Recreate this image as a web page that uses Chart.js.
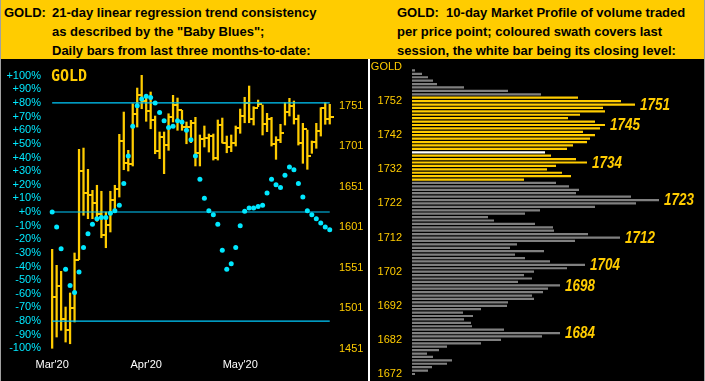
<!DOCTYPE html>
<html><head><meta charset="utf-8">
<script src="https://cdn.jsdelivr.net/npm/chart.js@4.4.1/dist/chart.umd.min.js"></script>
<style>
html,body{margin:0;padding:0;background:#000;}
#wrap{position:relative;width:705px;height:381px;overflow:hidden;background:#000;}
#hdr{position:absolute;left:0;top:0;width:705px;height:59px;background:#ffcc00;}
.ht{position:absolute;top:3px;font:bold 13px "Liberation Sans",Arial,sans-serif;color:#000;line-height:19px;white-space:nowrap;}
#lc{position:absolute;left:0;top:59px;}
#rc{position:absolute;left:371px;top:59px;}
#rline{position:absolute;left:368px;top:59px;width:2px;height:322px;background:#fff;}
#goldL{position:absolute;left:51px;top:69px;font:bold 15px "DejaVu Sans Mono",monospace;line-height:15px;color:#ffcc00;}
#bl{position:absolute;left:0;top:0;width:1px;height:381px;background:#a0a0a0;}
#br{position:absolute;right:0;top:0;width:1px;height:381px;background:#a0a0a0;}
</style></head>
<body>
<div id="wrap">
  <div id="hdr">
    <div class="ht" style="left:4px">GOLD:</div>
    <div class="ht" style="left:52px">21-day linear regression trend consistency<br>as described by the "Baby Blues";<br>Daily bars from last three months-to-date:</div>
    <div class="ht" style="left:397px">GOLD:&nbsp; 10-day Market Profile of volume traded<br>per price point; coloured swath covers last<br>session, the white bar being its closing level:</div>
  </div>
  <canvas id="lc" width="366" height="322"></canvas>
  <div id="goldL">GOLD</div>
  <div id="rline"></div>
  <canvas id="rc" width="333" height="322"></canvas>
  <div id="bl"></div><div id="br"></div>
</div>
<script>
// ---------- Left panel data (daily bars, index = trading day) ----------
const highs  = [1573.9,1554.2,1546.8,1502.8,1520.1,1569.4,1697.2,1698.8,1672.6,1646.7,1652.9,1645.5,1619.9,1645.5,1652.9,1715.7,1743.2,1696.0,1753.5,1772.8,1788.5,1760.9,1767.9,1738.3,1718.6,1718.6,1741.1,1763.8,1760.5,1745.3,1730.9,1733.0,
                1736.7,1714.9,1726.0,1716.1,1716.1,1733.4,1735.8,1713.6,1714.9,1726.0,1746.9,1761.4,1775.3,1749.8,1758.0,1751.9,1741.6,1736.7,1712.8,1728.1,1754.7,1760.1,1756.8,1739.5,1729.3,1721.0,1707.5,1729.3,1748.5,1754.7,1752.7];
const lows   = [1451.9,1465.8,1474.1,1459.6,1457.5,1484.3,1561.1,1615.9,1611.7,1611.7,1608.5,1588.2,1575.9,1595.3,1624.0,1638.4,1672.1,1670.5,1676.7,1724.7,1747.3,1731.8,1722.6,1691.8,1685.7,1667.2,1696.0,1730.9,1720.7,1720.7,1704.1,1705.4,
                1676.7,1676.7,1700.1,1693.9,1684.0,1684.0,1705.0,1693.0,1694.3,1701.3,1717.0,1730.0,1730.0,1727.2,1749.8,1714.9,1719.0,1701.3,1684.9,1705.4,1727.2,1738.3,1728.4,1702.5,1680.0,1672.6,1692.3,1698.5,1713.6,1728.1,1728.4];
const closes = [1515.1,1528.7,1488.4,1474.1,1501.6,1561.1,1670.1,1643.7,1640.5,1631.4,1617.8,1591.9,1604.3,1635.1,1648.7,1707.5,1680.7,1679.5,1741.1,1763.8,1756.4,1744.1,1733.7,1695.1,1712.4,1702.9,1737.1,1752.2,1746.1,1724.7,1724.7,1730.0,
                1692.7,1709.9,1711.2,1713.6,1686.5,1727.2,1705.4,1700.4,1705.4,1723.9,1738.7,1754.7,1735.0,1748.5,1752.7,1728.1,1735.0,1703.8,1708.7,1717.7,1743.6,1751.0,1735.0,1704.6,1721.9,1689.3,1705.9,1720.2,1748.5,1734.2,1737.4];
// "Baby Blues": 21-day linear regression trend consistency, in %
const babyBlues = [0,-11,-27,-42,-54,-59,-44,-26,-16,-9,-5,-4,-4,-1,1,5,21,41,63,78,83,85,84,80,73,67,62,63,67,66,60,53,
                   41,24,10,1,-2,-9,-28,-42,-38,-26,-10,0.5,3,3,4,5,14,24,20,18,27,33,31,21,11,1,-2,-5,-8,-11,-13];
const bandLevels = [80, 0, -80];
const monthLabels = ["Mar'20", "Apr'20", "May'20"];
const monthFirstBar = [0, 21, 42];
const pctTicks = [-100,-90,-80,-70,-60,-50,-40,-30,-20,-10,0,10,20,30,40,50,60,70,80,90,100];
const priceTicks = [1451,1501,1551,1601,1651,1701,1751];

// ---------- Right panel data (10-day market profile) ----------
const profileLevels = [1762,1761,1760,1759,1758,1757,1756,1755,1754,1753,1752,1751,1750,1749,1748,1747,1746,1745,1744,1743,1742,1741,1740,1739,1738,1737,1736,1735,1734,1733,1732,1731,1730,1729,1728,1727,1726,1725,1724,1723,1722,1721,1720,1719,1718,1717,1716,1715,1714,1713,1712,1711,1710,1709,1708,1707,1706,1705,1704,1703,1702,1701,1700,1699,1698,1697,1696,1695,1694,1693,1692,1691,1690,1689,1688,1687,1686,1685,1684,1683,1682,1681,1680,1679,1678,1677,1676,1675,1674,1673,1672];
const profileVolume = [null,3,10,16,21,25,52,96,129,166,209,223,191,193,168,156,183,193,188,171,183,178,175,161,155,133,139,164,175,144,135,150,159,112,144,157,167,164,219,247,224,183,128,113,76,82,123,141,142,176,208,163,105,98,132,103,113,138,173,155,122,112,120,106,148,136,131,120,122,96,95,69,51,61,52,59,60,92,148,130,89,69,35,27,15,21,40,35,20,16,3];
const profileTickLabels = ['1752','1742','1732','1722','1712','1702','1692','1682','1672'];
const profileCallouts = [1751,1745,1734,1723,1712,1704,1698,1684];
const swathHigh = 1753, swathLow = 1729, lastClose = 1737;

const YEL = '#ffcc00', CYAN = '#00e8ff', LINE = '#00ccff', GRAY = '#808080';
Chart.defaults.font.family = '"Liberation Sans", Arial, sans-serif';

const noPadY = s => { s.paddingTop = 0; s.paddingBottom = 0; };

// close tick image (drawn to the right of the bar)
const tickImg = document.createElement('canvas');
tickImg.width = 8; tickImg.height = 2;
const tctx = tickImg.getContext('2d'); tctx.fillStyle = YEL; tctx.fillRect(4, 0, 4, 2);

const last = highs.length - 1;
new Chart(document.getElementById('lc'), {
  type: 'bar',
  data: { datasets: [
    { type: 'scatter', data: babyBlues.map((v, i) => ({x: i, y: v})), yAxisID: 'yPct',
      pointRadius: 2.5, pointHoverRadius: 2.5, backgroundColor: CYAN, borderWidth: 0, order: 0 },
    ...bandLevels.map(v => ({ type: 'line', data: [{x: 0, y: v}, {x: last, y: v}], yAxisID: 'yPct',
      borderColor: LINE, borderWidth: 1.2, pointRadius: 0, order: 1 })),
    { type: 'scatter', data: closes.map((v, i) => ({x: i, y: v})), yAxisID: 'yPrice',
      pointStyle: tickImg, order: 2 },
    { type: 'bar', data: highs.map((h, i) => ({x: i, y: [lows[i], h]})), yAxisID: 'yPrice',
      backgroundColor: YEL, barThickness: 1.6, order: 3 }
  ]},
  options: {
    responsive: false, animation: false, events: [],
    layout: { padding: { top: 9.9, left: 0, right: 0, bottom: 0 } },
    plugins: { legend: { display: false }, tooltip: { enabled: false } },
    scales: {
      x: { type: 'linear', min: -1.6, max: 63.4, offset: false,
        grid: { display: false, drawTicks: false }, border: { display: false },
        afterBuildTicks: s => { s.ticks = monthFirstBar.map(v => ({value: v})); },
        afterFit: s => { s.height = 25.9; s.paddingLeft = 0; s.paddingRight = 0; },
        ticks: { color: '#ffffff', font: { size: 11 }, padding: 3.3, autoSkip: false, maxRotation: 0,
          callback: v => monthLabels[monthFirstBar.indexOf(v)] } },
      yPct: { type: 'linear', position: 'left', min: -105, max: 105,
        grid: { display: false, drawTicks: false }, border: { display: false },
        afterBuildTicks: s => { s.ticks = pctTicks.map(v => ({value: v})); },
        afterFit: s => { s.width = 45; noPadY(s); },
        ticks: { color: CYAN, font: { size: 11 }, padding: 4, autoSkip: false,
          callback: v => (v >= 0 ? '+' : '') + v + '%' } },
      yPrice: { type: 'linear', position: 'right', min: 1443.5, max: 1796.4,
        grid: { display: false, drawTicks: false }, border: { display: false },
        afterBuildTicks: s => { s.ticks = priceTicks.map(v => ({value: v})); },
        afterFit: s => { s.width = 30; noPadY(s); },
        ticks: { color: YEL, font: { size: 11 }, padding: 3, autoSkip: false, callback: v => String(v) } }
    }
  }
});

const calloutPlugin = {
  id: 'callouts',
  afterDatasetsDraw(chart) {
    const ctx = chart.ctx, meta = chart.getDatasetMeta(0);
    profileCallouts.forEach(p => {
      const el = meta.data[profileLevels.indexOf(p)];
      ctx.save();
      ctx.translate(el.x + 5, el.y + 1);
      ctx.scale(0.84, 1);
      ctx.font = 'italic bold 16px "Liberation Sans", Arial, sans-serif';
      ctx.fillStyle = YEL; ctx.textBaseline = 'middle'; ctx.textAlign = 'left';
      ctx.fillText(String(p), 0, 0);
      ctx.restore();
    });
  }
};

new Chart(document.getElementById('rc'), {
  type: 'bar',
  data: { labels: profileLevels.map(String), datasets: [{
    data: profileVolume,
    backgroundColor: profileLevels.map(p => p === lastClose ? '#ffffff' : (p >= swathLow && p <= swathHigh ? YEL : GRAY)),
    barPercentage: 0.65, categoryPercentage: 1
  }]},
  options: {
    indexAxis: 'y', responsive: false, animation: false, events: [],
    layout: { padding: { top: 6.3, bottom: 5.3, left: 0, right: 0 } },
    plugins: { legend: { display: false }, tooltip: { enabled: false } },
    scales: {
      x: { display: false, min: 0, max: 292 },
      y: { grid: { display: false, drawTicks: false }, border: { display: false },
        afterFit: s => { s.width = 41; noPadY(s); },
        ticks: { color: YEL, font: { size: 11 }, padding: 10, autoSkip: false,
          callback: function(v, i) { const lab = this.getLabelForValue(v); return i === 0 ? 'GOLD' : (profileTickLabels.includes(lab) ? lab : ''); } } }
    }
  },
  plugins: [calloutPlugin]
});
</script>
</body></html>
